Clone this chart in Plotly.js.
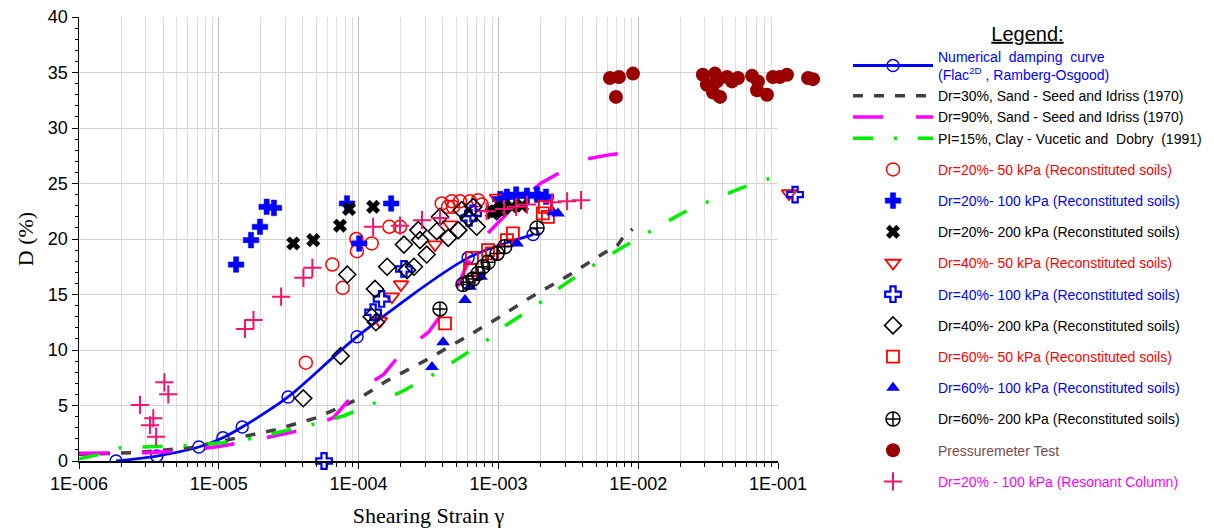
<!DOCTYPE html>
<html>
<head>
<meta charset="utf-8">
<script src="https://cdn.plot.ly/plotly-3.0.1.min.js"></script>
<style>
  html, body { margin: 0; padding: 0; background: #fff; }
  #chart { width: 1214px; height: 531px; }
</style>
</head>
<body>
<div id="chart"></div>
<script>
// ---- Numerical damping curve (FLAC 2D, Ramberg-Osgood) ----
const numStrain  = [1.84e-6, 3.6e-6, 7.2e-6, 1.07e-5, 1.47e-5, 3.13e-5, 9.75e-5, 6.07e-4, 1.77e-3];
const numDamping = [0, 0.45, 1.26, 2.1, 3.06, 5.77, 11.2, 18.3, 20.4];

// ---- Reference curves ----
const seedLooseStrain  = [1e-6, 2.51e-6, 6.31e-6, 1.26e-5, 2.51e-5, 5.01e-5, 1e-4, 1.58e-4, 3.16e-4, 6.31e-4, 1e-3, 1.58e-3, 3.16e-3, 5.62e-3, 7.08e-3, 7.94e-3, 9.12e-3];
const seedLooseDamping = [0.6, 0.75, 1.2, 2.0, 2.8, 3.9, 5.6, 7.2, 9.2, 11.4, 12.9, 14.5, 16.7, 18.7, 19.4, 20.3, 20.9];

const seedDenseStrain  = [1e-6, 3.16e-6, 6.31e-6, 1e-5, 2e-5, 3.98e-5, 6.61e-5, 9.33e-5, 1.51e-4, 2.04e-4, 3.16e-4, 4.47e-4, 6.03e-4, 7.94e-4, 1.26e-3, 2e-3, 3.16e-3, 4.27e-3, 6.31e-3, 1e-2];
const seedDenseDamping = [0.7, 0.75, 1.0, 1.3, 2.0, 2.8, 3.9, 6.1, 7.8, 9.8, 11.6, 14.2, 17.8, 20.2, 22.8, 25.0, 26.4, 27.2, 27.6, 27.9];

const clayStrain  = [1e-6, 1.41e-6, 2e-6, 3.55e-6, 6.31e-6, 1.07e-5, 1.86e-5, 3.16e-5, 5.5e-5, 7.94e-5, 1.12e-4, 2e-4, 3.55e-4, 6.03e-4, 8.32e-4, 1.12e-3, 1.82e-3, 2.88e-3, 4.47e-3, 7.59e-3, 1.26e-2, 2.04e-2, 3.47e-2, 5.75e-2, 0.1];
const clayDamping = [0.2, 0.6, 1.2, 1.27, 1.4, 1.65, 2.1, 2.8, 3.5, 4.1, 4.9, 6.2, 7.9, 9.8, 10.9, 12.2, 13.9, 15.8, 17.4, 19.2, 20.8, 22.3, 23.6, 24.7, 25.7];

// ---- Laboratory tests on reconstituted soils ----
const dr20p50Strain  = [4.19e-5, 6.49e-5, 7.70e-5, 9.64e-5, 9.73e-5, 1.24e-4, 1.66e-4, 1.98e-4, 3.93e-4, 4.36e-4, 4.63e-4, 4.73e-4, 5.31e-4, 6.26e-4, 7.15e-4, 7.6e-4];
const dr20p50Damping = [8.86, 17.7, 15.6, 20.0, 18.9, 19.6, 21.1, 21.1, 23.2, 22.9, 23.4, 22.9, 23.4, 23.4, 23.5, 23.1];

const dr20p100Strain  = [1.33e-5, 1.70e-5, 1.97e-5, 2.20e-5, 2.48e-5, 8.26e-5, 1.01e-4, 1.71e-4, 1.03e-3, 1.15e-3, 1.34e-3, 1.60e-3, 1.89e-3, 2.19e-3];
const dr20p100Damping = [17.7, 19.9, 21.1, 22.9, 22.8, 23.2, 19.6, 23.2, 23.6, 23.8, 24.0, 23.9, 24.0, 23.8];

const dr20p200Strain  = [3.41e-5, 4.74e-5, 7.36e-5, 8.54e-5, 1.27e-4, 9.0e-4, 9.46e-4, 1.08e-3, 1.25e-3, 1.48e-3];
const dr20p200Damping = [19.6, 19.9, 21.2, 22.7, 22.9, 22.4, 22.5, 22.8, 22.9, 23.0];

const dr40p50Strain  = [1.42e-4, 1.73e-4, 2.01e-4, 3.52e-4, 4.51e-4, 9.78e-4, 0.12];
const dr40p50Damping = [12.6, 14.8, 15.9, 19.5, 21.3, 23.7, 24.1];

const dr40p100Strain  = [5.66e-5, 1.27e-4, 1.46e-4, 2.11e-4, 6.17e-4, 6.58e-4, 0.1325];
const dr40p100Damping = [0.0, 13.4, 14.6, 17.3, 21.9, 22.3, 24.0];

const dr40p200Strain  = [4.02e-5, 7.44e-5, 8.30e-5, 1.24e-4, 1.33e-4, 1.31e-4, 1.60e-4, 2.11e-4, 2.22e-4, 2.49e-4, 2.67e-4, 2.75e-4, 3.07e-4, 3.62e-4, 3.82e-4, 4.38e-4, 5.17e-4, 5.47e-4, 6.10e-4, 6.62e-4, 7.0e-4, 9.72e-4, 1.08e-3];
const dr40p200Damping = [5.65, 9.46, 16.8, 13.0, 12.5, 15.5, 17.5, 19.5, 17.2, 17.5, 20.8, 19.9, 18.6, 20.7, 22.0, 20.1, 20.8, 22.6, 21.9, 22.9, 21.1, 22.5, 22.9];

const dr60p50Strain  = [4.15e-4, 6.26e-4, 6.47e-4, 8.43e-4, 9.0e-4, 1.15e-3, 1.27e-3, 2.08e-3, 2.15e-3, 2.26e-3];
const dr60p50Damping = [12.4, 17.2, 18.3, 19.0, 18.7, 19.9, 20.5, 22.3, 22.9, 22.0];

const dr60p100Strain  = [3.35e-4, 4.02e-4, 5.77e-4, 6.26e-4, 7.51e-4, 1.36e-3, 2.46e-3, 2.67e-3, 1.11e-3, 1.55e-3, 1.99e-3];
const dr60p100Damping = [8.47, 10.7, 14.5, 15.7, 16.6, 19.6, 22.4, 22.3, 23.8, 23.9, 23.8];

const dr60p200Strain  = [3.82e-4, 5.59e-4, 6.07e-4, 6.58e-4, 7.15e-4, 7.76e-4, 8.43e-4, 9.78e-4, 1.11e-3, 1.89e-3];
const dr60p200Damping = [13.7, 15.9, 16.1, 16.4, 16.9, 17.5, 17.9, 18.7, 19.3, 21.0];

// ---- Field and resonant column tests ----
const pressStrain  = [6.28e-3, 7.29e-3, 9.18e-3, 6.93e-3, 2.90e-2, 3.54e-2, 3.10e-2, 3.43e-2, 3.85e-2, 3.66e-2, 4.32e-2, 4.69e-2, 5.17e-2, 6.52e-2, 7.19e-2, 7.08e-2, 8.34e-2, 9.2e-2, 0.103, 0.116, 0.164, 0.178];
const pressDamping = [34.5, 34.6, 34.9, 32.8, 34.8, 34.9, 33.9, 33.2, 32.8, 34.2, 34.6, 34.2, 34.5, 34.7, 34.2, 33.4, 33.0, 34.6, 34.6, 34.8, 34.5, 34.4];

const rcStrain  = [2.73e-6, 3.40e-6, 3.22e-6, 3.56e-6, 4.08e-6, 4.35e-6, 1.54e-5, 1.77e-5, 2.79e-5, 4.03e-5, 4.67e-5, 1.27e-4, 1.98e-4, 2.84e-4, 3.82e-4, 8.24e-4, 1.10e-3, 1.34e-3, 1.60e-3, 2.42e-3, 3.10e-3, 3.90e-3];
const rcDamping = [5.05, 3.85, 3.22, 2.19, 7.09, 6.01, 11.9, 12.7, 14.8, 16.5, 17.4, 21.1, 21.2, 21.7, 21.9, 22.5, 22.7, 22.9, 23.1, 23.3, 23.4, 23.5];

// ---- Axis labels ----
const xTickVals   = [1e-6, 1e-5, 1e-4, 1e-3, 1e-2, 1e-1];
const xTickLabels = ['1E-006', '1E-005', '1E-004', '1E-003', '1E-002', '1E-001'];

// minor ticks at 2..9 within every decade
const xMinorVals = [];
for (let e = -6; e < -1; e++) {
  for (let m = 2; m <= 9; m++) xMinorVals.push(m * Math.pow(10, e));
}

// Gridded strain axis stops at 1E-001; a hidden side axis continues the same
// log scale to the right so test points beyond 0.1 stay visible.
const X_MAX_LOG = -1;
const PX_PER_DECADE = 139.8;
const GRID_PX = 5 * PX_PER_DECADE;      // width of the gridded area
const EXTRA_PX = 52;                    // room for points beyond 0.1
const mainFrac = GRID_PX / (GRID_PX + EXTRA_PX);

const RED = '#ff0000', BLUE = '#0000ff', BLACK = '#000000';
const label = (txt, col) => '<span style="color:' + col + '">' + txt + '</span>';

function markerTraces(x, y, name, textColor, marker) {
  const inX = [], inY = [], outX = [], outY = [];
  x.forEach((v, i) => {
    if (Math.log10(v) <= X_MAX_LOG) { inX.push(v); inY.push(y[i]); }
    else { outX.push(v); outY.push(y[i]); }
  });
  const group = name;
  const out = [{
    x: inX, y: inY, type: 'scatter', mode: 'markers', cliponaxis: false,
    name: label(name, textColor), legendgroup: group, marker: marker
  }];
  if (outX.length) {
    out.push({
      x: outX, y: outY, type: 'scatter', mode: 'markers', cliponaxis: false,
      xaxis: 'x2', yaxis: 'y2', showlegend: false,
      name: label(name, textColor), legendgroup: group, marker: marker
    });
  }
  return out;
}

const traces = [
  {
    x: numStrain, y: numDamping, type: 'scatter', mode: 'lines+markers', legendgroup: 'curves',
    name: label('Numerical  damping  curve<br>(Flac<sup>2D</sup> , Ramberg-Osgood)', BLUE),
    line: { color: BLUE, width: 2.8, shape: 'spline', smoothing: 0.8 },
    marker: { symbol: 'circle-open', size: 12, color: BLUE, line: { width: 1.5 } }
  },
  {
    x: seedLooseStrain, y: seedLooseDamping, type: 'scatter', mode: 'lines', legendgroup: 'curves',
    name: label('Dr=30%, Sand - Seed and Idriss (1970)', BLACK),
    line: { color: '#404040', width: 3.5, dash: '10px,11px' }
  },
  {
    x: seedDenseStrain, y: seedDenseDamping, type: 'scatter', mode: 'lines', legendgroup: 'curves',
    name: label('Dr=90%, Sand - Seed and Idriss (1970)', BLACK),
    line: { color: '#ff00ff', width: 3.5, dash: '30px,33px' }
  },
  {
    x: clayStrain, y: clayDamping, type: 'scatter', mode: 'lines', legendgroup: 'curves',
    name: label('PI=15%, Clay - Vucetic and  Dobry  (1991)', BLACK),
    line: { color: '#00ee00', width: 3.5, dash: '20px,21px,3px,21px' }
  },
  ...markerTraces(dr20p50Strain, dr20p50Damping, 'Dr=20%- 50 kPa (Reconstituted soils)', RED,
    { symbol: 'circle-open', size: 13, color: RED, line: { width: 1.5 } }),
  ...markerTraces(dr20p100Strain, dr20p100Damping, 'Dr=20%- 100 kPa (Reconstituted soils)', BLUE,
    { symbol: 'cross', size: 13, color: BLUE, line: { width: 0.5, color: BLUE } }),
  ...markerTraces(dr20p200Strain, dr20p200Damping, 'Dr=20%- 200 kPa (Reconstituted soils)', BLACK,
    { symbol: 'x', size: 12, color: BLACK, line: { width: 0.5, color: BLACK } }),
  ...markerTraces(dr40p50Strain, dr40p50Damping, 'Dr=40%- 50 kPa (Reconstituted soils)', RED,
    { symbol: 'triangle-down-open', size: 13, color: RED, line: { width: 1.8 } }),
  ...markerTraces(dr40p100Strain, dr40p100Damping, 'Dr=40%- 100 kPa (Reconstituted soils)', BLUE,
    { symbol: 'cross-open', size: 13, color: BLUE, line: { width: 2.2 } }),
  ...markerTraces(dr40p200Strain, dr40p200Damping, 'Dr=40%- 200 kPa (Reconstituted soils)', BLACK,
    { symbol: 'diamond-open', size: 13, color: BLACK, line: { width: 1.6 } }),
  ...markerTraces(dr60p50Strain, dr60p50Damping, 'Dr=60%- 50 kPa (Reconstituted soils)', RED,
    { symbol: 'square-open', size: 12, color: RED, line: { width: 1.8 } }),
  ...markerTraces(dr60p100Strain, dr60p100Damping, 'Dr=60%- 100 kPa (Reconstituted soils)', BLUE,
    { symbol: 'triangle-up', size: 12, color: BLUE }),
  ...markerTraces(dr60p200Strain, dr60p200Damping, 'Dr=60%- 200 kPa (Reconstituted soils)', BLACK,
    { symbol: 'circle-cross-open', size: 14, color: BLACK, line: { width: 1.5 } }),
  ...markerTraces(pressStrain, pressDamping, 'Pressuremeter Test', '#7a4a4a',
    { symbol: 'circle', size: 14, color: '#990000' }),
  ...markerTraces(rcStrain, rcDamping, 'Dr=20% - 100 kPa (Resonant Column)', '#ff00ff',
    { symbol: 'cross-thin-open', size: 13, color: '#f5136f', line: { width: 2, color: '#f5136f' } })
];

const serif = 'Liberation Serif, Times New Roman, serif';
const layout = {
  width: 1214, height: 531,
  margin: { l: 79, r: 1214 - 79 - GRID_PX - EXTRA_PX, t: 17, b: 70, autoexpand: false },
  paper_bgcolor: '#ffffff', plot_bgcolor: '#ffffff',
  font: { family: 'Liberation Sans, Arial, sans-serif', size: 18, color: '#000' },
  showlegend: true,
  xaxis: {
    type: 'log', range: [-6, X_MAX_LOG], domain: [0, mainFrac], anchor: 'y',
    tickmode: 'array', tickvals: xTickVals, ticktext: xTickLabels,
    ticks: 'outside', ticklen: 6, tickwidth: 1, tickcolor: '#000',
    showgrid: true, gridcolor: '#bdbdbd', gridwidth: 1,
    minor: { tickmode: 'array', tickvals: xMinorVals, ticks: 'outside', ticklen: 4, tickcolor: '#000', showgrid: true, gridcolor: '#dcdcdc', gridwidth: 1 },
    showline: true, linecolor: '#000', linewidth: 1.5, zeroline: false,
    tickfont: { size: 18 },
    title: { text: 'Shearing Strain γ', font: { family: serif, size: 22 }, standoff: 14 }
  },
  yaxis: {
    range: [0, 40], dtick: 5, tick0: 0, anchor: 'x',
    ticks: 'outside', ticklen: 6, tickwidth: 1, tickcolor: '#000',
    showgrid: true, gridcolor: '#d4d4d4', gridwidth: 1,
    minor: { dtick: 1, ticks: 'outside', ticklen: 3, tickcolor: '#000', showgrid: false },
    showline: true, linecolor: '#000', linewidth: 1.5, zeroline: false,
    tickfont: { size: 18 },
    title: { text: 'D (%)', font: { family: serif, size: 22 }, standoff: 8 }
  },
  xaxis2: {
    type: 'log', domain: [mainFrac, 1], anchor: 'y2',
    range: [X_MAX_LOG, X_MAX_LOG + EXTRA_PX / PX_PER_DECADE], visible: false
  },
  yaxis2: { range: [0, 40], anchor: 'x2', visible: false },
  legend: {
    x: (848 - 79) / (GRID_PX + EXTRA_PX), y: 1.005, xanchor: 'left', yanchor: 'top',
    bgcolor: 'rgba(255,255,255,0)', borderwidth: 0, maxheight: 700,
    font: { family: 'Liberation Sans, Arial, sans-serif', size: 14, color: '#000' },
    itemwidth: 80, tracegroupgap: 10, traceorder: 'grouped', valign: 'middle',
    title: { text: '<u>Legend:</u>', side: 'top center', font: { size: 20 } }
  }
};

Plotly.newPlot('chart', traces, layout, { displayModeBar: false, staticPlot: true });
</script>
</body>
</html>
